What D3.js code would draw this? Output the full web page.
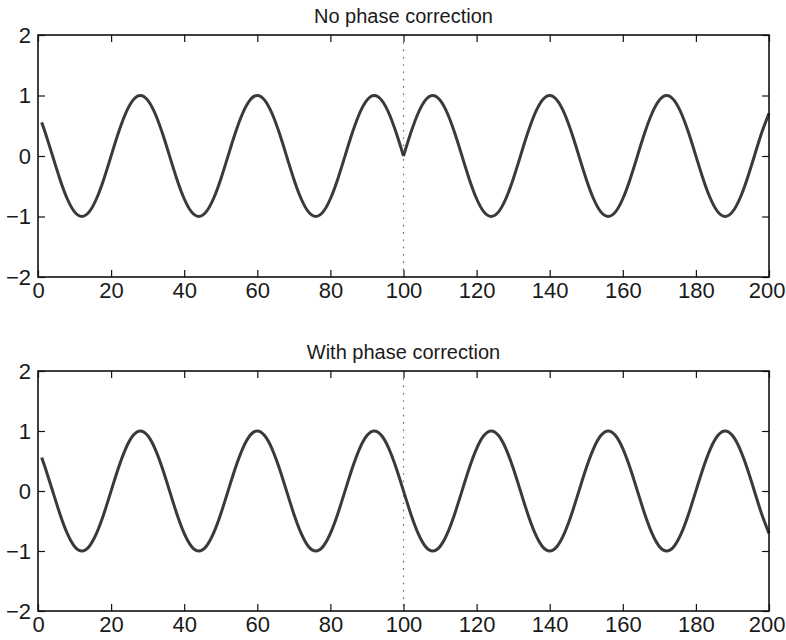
<!DOCTYPE html>
<html>
<head>
<meta charset="utf-8">
<script src="https://cdn.jsdelivr.net/npm/d3@7"></script>
<style>
  html, body { margin: 0; padding: 0; background: #ffffff; }
  svg { display: block; }
  text { font-family: "Liberation Sans", Arial, Helvetica, sans-serif; fill: #1a1a1a; }
</style>
</head>
<body>
<svg id="chart" width="786" height="640"></svg>
<script>
// Sample positions (shared by both signals)
const sampleX = [1, 2, 4, 6, 8, 10, 12, 14, 16, 18, 20, 22, 24, 26, 28, 30, 32, 34, 36, 38, 40,
  42, 44, 46, 48, 50, 52, 54, 56, 58, 60, 62, 64, 66, 68, 70, 72, 74, 76, 78, 80,
  82, 84, 86, 88, 90, 92, 94, 96, 98, 100,
  102, 104, 106, 108, 110, 112, 114, 116, 118, 120, 122, 124, 126, 128, 130, 132, 134, 136, 138, 140,
  142, 144, 146, 148, 150, 152, 154, 156, 158, 160, 162, 164, 166, 168, 170, 172, 174, 176, 178, 180,
  182, 184, 186, 188, 190, 192, 194, 196, 198, 200];

// Signal spliced at sample 100 without phase correction (cusp at the join)
const noCorrection = [0.556, 0.383,
  0, -0.383, -0.707, -0.924, -1, -0.924, -0.707, -0.383, 0, 0.383, 0.707, 0.924, 1, 0.924, 0.707, 0.383,
  0, -0.383, -0.707, -0.924, -1, -0.924, -0.707, -0.383, 0, 0.383, 0.707, 0.924, 1, 0.924, 0.707, 0.383,
  0, -0.383, -0.707, -0.924, -1, -0.924, -0.707, -0.383, 0, 0.383, 0.707, 0.924, 1, 0.924, 0.707, 0.383,
  0,
  0.383, 0.707, 0.924, 1, 0.924, 0.707, 0.383, 0, -0.383, -0.707, -0.924, -1, -0.924, -0.707, -0.383,
  0, 0.383, 0.707, 0.924, 1, 0.924, 0.707, 0.383, 0, -0.383, -0.707, -0.924, -1, -0.924, -0.707, -0.383,
  0, 0.383, 0.707, 0.924, 1, 0.924, 0.707, 0.383, 0, -0.383, -0.707, -0.924, -1, -0.924, -0.707, -0.383,
  0, 0.383, 0.707];

// Signal spliced at sample 100 with phase correction (continuous)
const withCorrection = [0.556, 0.383,
  0, -0.383, -0.707, -0.924, -1, -0.924, -0.707, -0.383, 0, 0.383, 0.707, 0.924, 1, 0.924, 0.707, 0.383,
  0, -0.383, -0.707, -0.924, -1, -0.924, -0.707, -0.383, 0, 0.383, 0.707, 0.924, 1, 0.924, 0.707, 0.383,
  0, -0.383, -0.707, -0.924, -1, -0.924, -0.707, -0.383, 0, 0.383, 0.707, 0.924, 1, 0.924, 0.707, 0.383,
  0,
  -0.383, -0.707, -0.924, -1, -0.924, -0.707, -0.383, 0, 0.383, 0.707, 0.924, 1, 0.924, 0.707, 0.383,
  0, -0.383, -0.707, -0.924, -1, -0.924, -0.707, -0.383, 0, 0.383, 0.707, 0.924, 1, 0.924, 0.707, 0.383,
  0, -0.383, -0.707, -0.924, -1, -0.924, -0.707, -0.383, 0, 0.383, 0.707, 0.924, 1, 0.924, 0.707, 0.383,
  0, -0.383, -0.707];

const spliceAt = 100;
const xTicks = [0, 20, 40, 60, 80, 100, 120, 140, 160, 180, 200];
const yTicks = [-2, -1, 0, 1, 2];
const titles = ["No phase correction", "With phase correction"];

const svg = d3.select("#chart");
const width = 786;
const left = 38, right = 769;
const panels = [
  { title: titles[0], values: noCorrection, top: 35, bottom: 277, splitCurve: true },
  { title: titles[1], values: withCorrection, top: 371, bottom: 611, splitCurve: false }
];

const x = d3.scaleLinear().domain([0, 200]).range([left, right]);
const tickLen = 7;
const intFmt = d3.format("d");

panels.forEach(p => {
  const y = d3.scaleLinear().domain([-2, 2]).range([p.bottom, p.top]);
  const g = svg.append("g");

  // Title
  g.append("text")
    .attr("x", (left + right) / 2)
    .attr("y", p.top - 12)
    .attr("text-anchor", "middle")
    .style("font-size", "20px")
    .text(p.title);

  // Dotted marker at the splice point
  g.append("line")
    .attr("x1", x(spliceAt)).attr("x2", x(spliceAt))
    .attr("y1", y(2)).attr("y2", y(-2))
    .attr("stroke", "#6f6f6f")
    .attr("stroke-width", 1.2)
    .attr("stroke-dasharray", "1.6,5.7");

  // Signal curve (split at the splice so the join keeps its shape)
  const pts = sampleX.map((xv, i) => [xv, p.values[i]]);
  const pieces = p.splitCurve
    ? [pts.filter(d => d[0] <= spliceAt), pts.filter(d => d[0] >= spliceAt)]
    : [pts];
  const line = d3.line()
    .x(d => x(d[0]))
    .y(d => y(d[1]))
    .curve(d3.curveNatural);
  pieces.forEach(seg => {
    g.append("path")
      .attr("d", line(seg))
      .attr("fill", "none")
      .attr("stroke", "#3a3a3a")
      .attr("stroke-width", 3)
      .attr("stroke-linejoin", "round")
      .attr("stroke-linecap", "butt");
  });

  // Axes: inward ticks on all four sides
  const axB = d3.axisBottom(x).tickValues(xTicks).tickSize(-tickLen).tickPadding(5.5).tickFormat(intFmt);
  const axT = d3.axisTop(x).tickValues(xTicks).tickSize(-tickLen).tickFormat("");
  const axL = d3.axisLeft(y).tickValues(yTicks).tickSize(-tickLen).tickPadding(7).tickFormat(intFmt);
  const axR = d3.axisRight(y).tickValues(yTicks).tickSize(-tickLen).tickFormat("");

  const styleAxis = sel => {
    sel.select(".domain").remove();
    sel.selectAll(".tick line").attr("stroke", "#111").attr("stroke-width", 1.2);
    sel.selectAll(".tick text")
      .attr("fill", "#1a1a1a")
      .style("font-family", "'Liberation Sans', Arial, Helvetica, sans-serif")
      .style("font-size", "22px");
  };

  const bottomAxis = g.append("g").attr("transform", `translate(0,${p.bottom})`).call(axB).call(styleAxis);
  // Keep the last x label inside the page edge
  bottomAxis.selectAll(".tick text")
    .filter(d => d === xTicks[xTicks.length - 1])
    .attr("text-anchor", "end")
    .attr("x", width - 1 - x(xTicks[xTicks.length - 1]));

  g.append("g").attr("transform", `translate(0,${p.top})`).call(axT).call(styleAxis);
  g.append("g").attr("transform", `translate(${left},0)`).call(axL).call(styleAxis);
  g.append("g").attr("transform", `translate(${right},0)`).call(axR).call(styleAxis);

  // Frame
  g.append("rect")
    .attr("x", left).attr("y", p.top)
    .attr("width", right - left).attr("height", p.bottom - p.top)
    .attr("fill", "none")
    .attr("stroke", "#111")
    .attr("stroke-width", 1.6);
});
</script>
</body>
</html>
